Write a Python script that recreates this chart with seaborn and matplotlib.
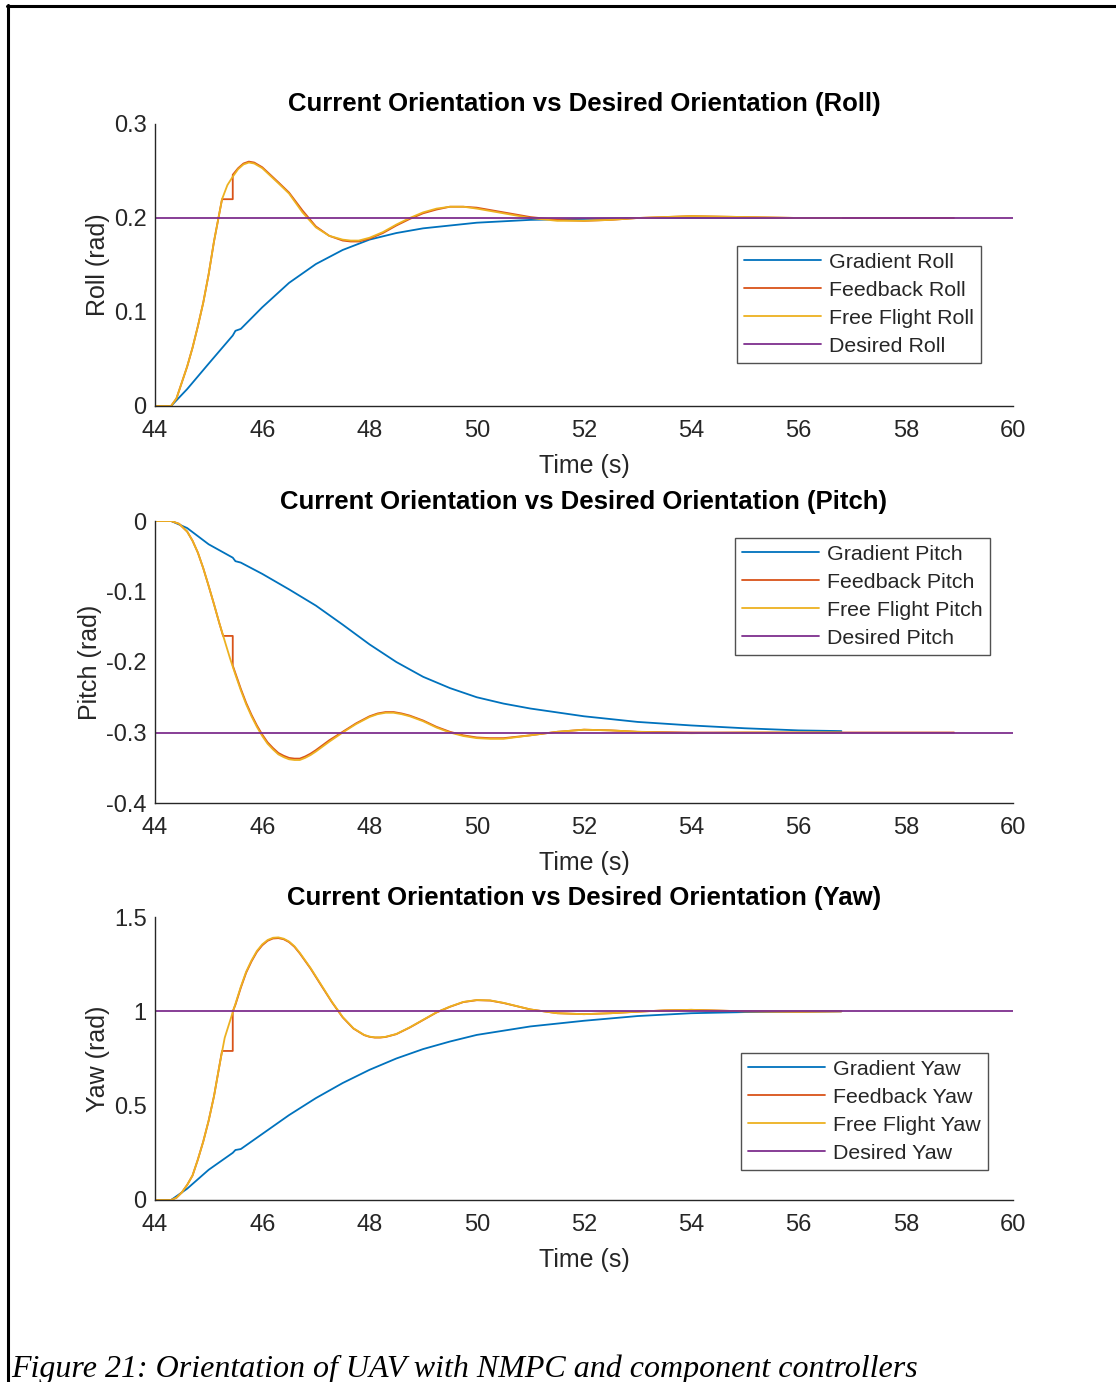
import matplotlib
matplotlib.use("Agg")
import matplotlib.pyplot as plt
from matplotlib.lines import Line2D
import seaborn as sns

# ---- Roll -------------------------------------------------------------
roll_t_grad = [44.0, 44.3, 44.6, 45.0, 45.45, 45.5, 45.6, 46.0, 46.5, 47.0, 47.5, 48.0,
               48.5, 49.0, 49.5, 50.0, 51.0, 52.0, 53.0, 54.0, 56.8]
roll_grad = [0, 0, 0.018, 0.045, 0.075, 0.080, 0.082, 0.105, 0.131, 0.151, 0.166, 0.177,
             0.184, 0.189, 0.192, 0.195, 0.198, 0.199, 0.200, 0.200, 0.200]

roll_t_fb = [44.0, 44.3, 44.4, 44.5, 44.6, 44.7, 44.8, 44.9, 45.0, 45.1, 45.25, 45.45,
             45.45, 45.55, 45.65, 45.75, 45.85, 46.0, 46.15, 46.3, 46.5, 46.75, 47.0, 47.25,
             47.5, 47.65, 47.8, 48.0, 48.25, 48.5, 48.75, 49.0, 49.25, 49.5, 49.75, 50.0,
             50.5, 51.0, 51.5, 52.0, 52.5, 53.0, 53.5, 54.0, 55.0, 56.0, 58.9]
roll_fb = [0, 0, 0.008, 0.025, 0.042, 0.062, 0.085, 0.11, 0.14, 0.175, 0.22, 0.22,
           0.246, 0.253, 0.258, 0.26, 0.259, 0.254, 0.246, 0.238, 0.227, 0.208, 0.191, 0.181,
           0.176, 0.175, 0.175, 0.178, 0.184, 0.192, 0.199, 0.205, 0.209, 0.212, 0.212, 0.211,
           0.206, 0.201, 0.198, 0.197, 0.198, 0.2, 0.201, 0.202, 0.201, 0.2, 0.2]

roll_t_free = [44.0, 44.3, 44.4, 44.5, 44.6, 44.7, 44.8, 44.9, 45.0, 45.1, 45.25, 45.35,
               45.45, 45.55, 45.65, 45.75, 45.85, 46.0, 46.15, 46.3, 46.5, 46.75, 47.0, 47.25,
               47.5, 47.65, 47.8, 48.0, 48.25, 48.5, 48.75, 49.0, 49.25, 49.5, 49.75, 50.0,
               50.5, 51.0, 51.5, 52.0, 52.5, 53.0, 53.5, 54.0, 55.0, 56.0, 56.8]
roll_free = [0, 0, 0.008, 0.025, 0.042, 0.062, 0.085, 0.11, 0.14, 0.175, 0.22, 0.235,
             0.244, 0.252, 0.257, 0.259, 0.258, 0.253, 0.245, 0.237, 0.226, 0.206, 0.19, 0.181,
             0.177, 0.176, 0.176, 0.179, 0.185, 0.193, 0.2, 0.206, 0.21, 0.212, 0.212, 0.21,
             0.205, 0.2, 0.197, 0.197, 0.198, 0.2, 0.201, 0.202, 0.201, 0.2, 0.2]

roll_desired = 0.2

# ---- Pitch ------------------------------------------------------------
pitch_t_grad = [44.0, 44.3, 44.6, 45.0, 45.45, 45.5, 45.6, 46.0, 46.5, 47.0, 47.5, 48.0,
                48.5, 49.0, 49.5, 50.0, 50.5, 51.0, 52.0, 53.0, 54.0, 55.0, 56.0, 56.8]
pitch_grad = [0, 0, -0.01, -0.033, -0.052, -0.057, -0.059, -0.075, -0.097, -0.12, -0.147,
              -0.175, -0.2, -0.221, -0.237, -0.25, -0.259, -0.266, -0.277, -0.285, -0.29,
              -0.294, -0.297, -0.298]

pitch_t_fb = [44.0, 44.3, 44.45, 44.6, 44.7, 44.8, 44.9, 45.0, 45.1, 45.2, 45.27, 45.45,
              45.45, 45.5, 45.6, 45.7, 45.8, 45.9, 46.0, 46.1, 46.2, 46.3, 46.4, 46.5,
              46.6, 46.7, 46.8, 46.9, 47.0, 47.25, 47.5, 47.75, 48.0, 48.15, 48.3, 48.45,
              48.6, 48.75, 49.0, 49.25, 49.5, 49.75, 50.0, 50.25, 50.5, 51.0, 51.5, 52.0,
              52.5, 53.0, 54.0, 55.0, 58.9]
pitch_fb = [0, 0, -0.004, -0.015, -0.028, -0.045, -0.067, -0.092, -0.118, -0.145, -0.163,
            -0.163, -0.205, -0.216, -0.238, -0.258, -0.275, -0.29, -0.303, -0.314, -0.322,
            -0.329, -0.333, -0.336, -0.337, -0.337, -0.334, -0.33, -0.325, -0.311, -0.299,
            -0.287, -0.277, -0.273, -0.271, -0.271, -0.273, -0.276, -0.283, -0.292, -0.299,
            -0.304, -0.307, -0.308, -0.308, -0.304, -0.299, -0.296, -0.297, -0.299, -0.3,
            -0.3, -0.3]

pitch_t_free = [44.0, 44.3, 44.45, 44.6, 44.7, 44.8, 44.9, 45.0, 45.1, 45.2, 45.3, 45.4,
                45.5, 45.6, 45.7, 45.8, 45.9, 46.0, 46.1, 46.2, 46.3, 46.4, 46.5, 46.6,
                46.7, 46.8, 46.9, 47.0, 47.25, 47.5, 47.75, 48.0, 48.15, 48.3, 48.45, 48.6,
                48.75, 49.0, 49.25, 49.5, 49.75, 50.0, 50.25, 50.5, 51.0, 51.5, 52.0, 52.5,
                53.0, 54.0, 55.0, 56.8]
pitch_free = [0, 0, -0.004, -0.015, -0.028, -0.045, -0.067, -0.092, -0.118, -0.145, -0.17,
              -0.195, -0.218, -0.24, -0.26, -0.277, -0.292, -0.305, -0.316, -0.324, -0.331,
              -0.335, -0.338, -0.339, -0.339, -0.336, -0.332, -0.327, -0.313, -0.3, -0.288,
              -0.278, -0.274, -0.272, -0.272, -0.274, -0.277, -0.284, -0.293, -0.3, -0.305,
              -0.308, -0.309, -0.309, -0.304, -0.299, -0.296, -0.297, -0.299, -0.301, -0.3,
              -0.3]

pitch_desired = -0.3

# ---- Yaw --------------------------------------------------------------
yaw_t_grad = [44.0, 44.3, 44.6, 45.0, 45.45, 45.5, 45.6, 46.0, 46.5, 47.0, 47.5, 48.0,
              48.5, 49.0, 49.5, 50.0, 51.0, 52.0, 53.0, 54.0, 55.0, 56.0, 56.8]
yaw_grad = [0, 0, 0.06, 0.16, 0.25, 0.265, 0.27, 0.35, 0.45, 0.54, 0.62, 0.69,
            0.75, 0.8, 0.84, 0.875, 0.92, 0.95, 0.975, 0.99, 0.996, 0.998, 1.0]

yaw_t_fb = [44.0, 44.3, 44.4, 44.5, 44.6, 44.7, 44.8, 44.9, 45.0, 45.1, 45.2, 45.25,
            45.45, 45.45, 45.5, 45.6, 45.7, 45.8, 45.9, 46.0, 46.1, 46.2, 46.3, 46.4,
            46.5, 46.6, 46.7, 46.8, 46.9, 47.0, 47.1, 47.3, 47.5, 47.7, 47.9, 48.0,
            48.1, 48.2, 48.3, 48.5, 48.75, 49.0, 49.25, 49.5, 49.75, 50.0, 50.25, 50.5,
            51.0, 51.5, 52.0, 52.5, 53.0, 53.5, 54.0, 55.0, 56.0, 56.8]
yaw_fb = [0, 0, 0.012, 0.04, 0.08, 0.13, 0.215, 0.31, 0.42, 0.55, 0.71, 0.79,
          0.79, 1.0, 1.035, 1.125, 1.205, 1.265, 1.315, 1.35, 1.374, 1.386, 1.388, 1.382,
          1.367, 1.342, 1.307, 1.267, 1.227, 1.182, 1.137, 1.048, 0.968, 0.909, 0.874, 0.865,
          0.861, 0.861, 0.864, 0.879, 0.914, 0.954, 0.994, 1.024, 1.049, 1.059, 1.057, 1.044,
          1.01, 0.99, 0.985, 0.99, 0.998, 1.005, 1.008, 1.0, 0.998, 1.0]

yaw_t_free = [44.0, 44.3, 44.4, 44.5, 44.6, 44.7, 44.8, 44.9, 45.0, 45.1, 45.2, 45.3,
              45.4, 45.5, 45.6, 45.7, 45.8, 45.9, 46.0, 46.1, 46.2, 46.3, 46.4, 46.5,
              46.6, 46.7, 46.8, 46.9, 47.0, 47.1, 47.3, 47.5, 47.7, 47.9, 48.0, 48.1,
              48.2, 48.3, 48.5, 48.75, 49.0, 49.25, 49.5, 49.75, 50.0, 50.25, 50.5, 51.0,
              51.5, 52.0, 52.5, 53.0, 53.5, 54.0, 55.0, 56.0, 56.8]
yaw_free = [0, 0, 0.012, 0.04, 0.08, 0.13, 0.215, 0.31, 0.42, 0.55, 0.71, 0.86,
            0.95, 1.04, 1.13, 1.21, 1.27, 1.32, 1.355, 1.378, 1.39, 1.392, 1.385, 1.37,
            1.345, 1.31, 1.27, 1.23, 1.185, 1.14, 1.05, 0.97, 0.91, 0.875, 0.866, 0.862,
            0.862, 0.865, 0.88, 0.915, 0.955, 0.995, 1.025, 1.05, 1.06, 1.058, 1.045, 1.01,
            0.99, 0.985, 0.99, 0.998, 1.005, 1.008, 1.0, 0.998, 1.0]

yaw_desired = 1.0

time_range = [44, 60]
x_ticks = [44, 46, 48, 50, 52, 54, 56, 58, 60]

roll_ticks = [0, 0.1, 0.2, 0.3]
roll_ticklabels = ["0", "0.1", "0.2", "0.3"]
pitch_ticks = [-0.4, -0.3, -0.2, -0.1, 0]
pitch_ticklabels = ["-0.4", "-0.3", "-0.2", "-0.1", "0"]
yaw_ticks = [0, 0.5, 1.0, 1.5]
yaw_ticklabels = ["0", "0.5", "1", "1.5"]

# MATLAB default line colours
C_BLUE = "#0072BD"
C_RED = "#D95319"
C_YELLOW = "#EDB120"
C_PURPLE = "#7E2F8E"
AX_GRAY = "#262626"

sns.set_theme(style="white")
plt.rcParams["font.family"] = ["Liberation Sans", "DejaVu Sans"]
plt.rcParams["axes.unicode_minus"] = False

fig = plt.figure(figsize=(11.16, 13.82), dpi=100)
W, H = 1116, 1382


def make_axes(left, top, right, bottom):
    return fig.add_axes([left / W, 1 - bottom / H, (right - left) / W, (bottom - top) / H])


panels = [
    dict(box=(155, 124, 1013, 406), name="Roll",
         grad=(roll_t_grad, roll_grad), fb=(roll_t_fb, roll_fb), free=(roll_t_free, roll_free),
         desired=roll_desired, ylim=(0, 0.3), ticks=roll_ticks, ticklabels=roll_ticklabels,
         leg=((737 - 155) / 858, (406 - 246) / 282)),
    dict(box=(155, 521, 1013, 803), name="Pitch",
         grad=(pitch_t_grad, pitch_grad), fb=(pitch_t_fb, pitch_fb), free=(pitch_t_free, pitch_free),
         desired=pitch_desired, ylim=(-0.4, 0), ticks=pitch_ticks, ticklabels=pitch_ticklabels,
         leg=((735 - 155) / 858, (803 - 538) / 282)),
    dict(box=(155, 917, 1013, 1200), name="Yaw",
         grad=(yaw_t_grad, yaw_grad), fb=(yaw_t_fb, yaw_fb), free=(yaw_t_free, yaw_free),
         desired=yaw_desired, ylim=(0, 1.5), ticks=yaw_ticks, ticklabels=yaw_ticklabels,
         leg=((741 - 155) / 858, (1200 - 1053) / 283)),
]

LW = 1.3
for p in panels:
    ax = make_axes(*p["box"])
    n = p["name"]
    sns.lineplot(x=p["grad"][0], y=p["grad"][1], ax=ax, color=C_BLUE, lw=LW,
                 sort=False, estimator=None, label=f"Gradient {n}")
    sns.lineplot(x=p["fb"][0], y=p["fb"][1], ax=ax, color=C_RED, lw=LW,
                 sort=False, estimator=None, label=f"Feedback {n}")
    sns.lineplot(x=p["free"][0], y=p["free"][1], ax=ax, color=C_YELLOW, lw=LW,
                 sort=False, estimator=None, label=f"Free Flight {n}")
    sns.lineplot(x=time_range, y=[p["desired"], p["desired"]], ax=ax, color=C_PURPLE, lw=LW,
                 sort=False, estimator=None, label=f"Desired {n}")

    ax.set_xlim(*time_range)
    ax.set_ylim(*p["ylim"])
    ax.set_xticks(x_ticks)
    ax.set_xticklabels([str(t) for t in x_ticks])
    ax.set_yticks(p["ticks"])
    ax.set_yticklabels(p["ticklabels"])
    for s in ("top", "right"):
        ax.spines[s].set_visible(False)
    for s in ("left", "bottom"):
        ax.spines[s].set_color(AX_GRAY)
        ax.spines[s].set_linewidth(1.0)
    ax.tick_params(direction="in", length=6, width=1.0, color=AX_GRAY,
                   labelcolor=AX_GRAY, labelsize=17)
    ax.tick_params(axis="x", pad=10)
    ax.tick_params(axis="y", pad=6)
    ax.set_xlabel("Time (s)", fontsize=18, color=AX_GRAY, labelpad=9)
    ax.set_ylabel(f"{n} (rad)", fontsize=18, color=AX_GRAY, labelpad=3)
    ax.set_title(f"Current Orientation vs Desired Orientation ({n})",
                 fontsize=18.5, fontweight="bold", color="black", pad=9)
    ax.set_facecolor("white")

    leg = ax.legend(loc="upper left", bbox_to_anchor=p["leg"], borderaxespad=0,
                    fontsize=15.4, frameon=True, fancybox=False, handlelength=3.6,
                    handletextpad=0.4, labelspacing=0.42, borderpad=0.32)
    leg.get_frame().set_edgecolor(AX_GRAY)
    leg.get_frame().set_linewidth(1.0)
    for t in leg.get_texts():
        t.set_color(AX_GRAY)

# page frame lines
fig.add_artist(Line2D([7 / W, 1.0], [1 - 6 / H, 1 - 6 / H], color="black", lw=2.2,
                      transform=fig.transFigure))
fig.add_artist(Line2D([8 / W, 8 / W], [1 - 5 / H, 0.0], color="black", lw=2.2,
                      transform=fig.transFigure))

fig.text(11 / W, 1 - 1377 / H, "Figure 21: Orientation of UAV with NMPC and component controllers",
         family=["Liberation Serif", "DejaVu Serif"], style="italic", fontsize=23,
         ha="left", va="baseline", color="black")

fig.savefig("out.png", dpi=100, facecolor="white")
